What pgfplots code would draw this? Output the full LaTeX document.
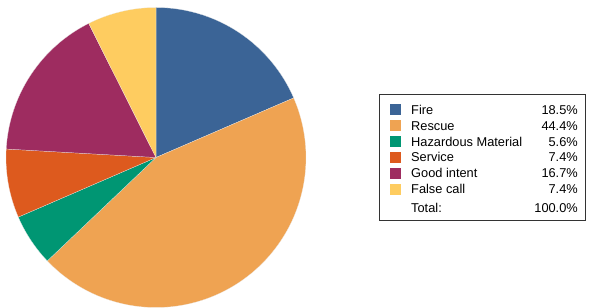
\documentclass[border=0pt]{standalone}
\usepackage{fontspec}
\setmainfont{Liberation Sans}
\usepackage{pgfplots}
\pgfplotsset{compat=1.18}
\definecolor{cFire}{RGB}{59,100,150}
\definecolor{cRescue}{RGB}{239,163,82}
\definecolor{cHaz}{RGB}{0,150,115}
\definecolor{cServ}{RGB}{221,90,30}
\definecolor{cGood}{RGB}{158,44,96}
\definecolor{cFalse}{RGB}{254,204,96}
% data (percent)
\def\vFire{18.5}
\def\vRescue{44.4}
\def\vHaz{5.6}
\def\vServ{7.4}
\def\vGood{16.7}
\def\vFalse{7.4}
\begin{document}
\begin{tikzpicture}[x=1pt,y=1pt]
\fontsize{12.8}{15}\selectfont
\path (0,0) rectangle (589,306);
% cumulative angles, clockwise from 90 deg
\pgfmathsetmacro\aA{90}
\pgfmathsetmacro\aB{\aA-3.6*\vFire}
\pgfmathsetmacro\aC{\aB-3.6*\vRescue}
\pgfmathsetmacro\aD{\aC-3.6*\vHaz}
\pgfmathsetmacro\aE{\aD-3.6*\vServ}
\pgfmathsetmacro\aF{\aE-3.6*\vGood}
\pgfmathsetmacro\aG{\aF-3.6*\vFalse}
\begin{axis}[
  at={(4,-1)}, anchor=south west,
  scale only axis, width=300pt, height=300pt,
  xmin=-1, xmax=1, ymin=-1, ymax=1,
  hide axis, clip=false,
]
\addplot[fill=cFire, draw=white!85!gray, line width=0.2pt, domain=\aB:\aA, samples=80, variable=\t] ({cos(\t)},{sin(\t)}) -- (axis cs:0,0) -- cycle;
\addplot[fill=cRescue, draw=white!85!gray, line width=0.2pt, domain=\aC:\aB, samples=150, variable=\t] ({cos(\t)},{sin(\t)}) -- (axis cs:0,0) -- cycle;
\addplot[fill=cHaz, draw=white!85!gray, line width=0.2pt, domain=\aD:\aC, samples=40, variable=\t] ({cos(\t)},{sin(\t)}) -- (axis cs:0,0) -- cycle;
\addplot[fill=cServ, draw=white!85!gray, line width=0.2pt, domain=\aE:\aD, samples=40, variable=\t] ({cos(\t)},{sin(\t)}) -- (axis cs:0,0) -- cycle;
\addplot[fill=cGood, draw=white!85!gray, line width=0.2pt, domain=\aF:\aE, samples=80, variable=\t] ({cos(\t)},{sin(\t)}) -- (axis cs:0,0) -- cycle;
\addplot[fill=cFalse, draw=white!85!gray, line width=0.2pt, domain=\aG:\aF, samples=40, variable=\t] ({cos(\t)},{sin(\t)}) -- (axis cs:0,0) -- cycle;
\end{axis}
% legend
\draw[line width=0.8pt, black!80] (379,212) rectangle (585,86);
\def\legrow#1#2#3#4{%
  \fill[#2] (390,{306-#1-5.5}) rectangle (401,{306-#1+5.5});
  \node[anchor=base west, inner sep=0] at (411,{306-#1-4.6}) {#3};
  \node[anchor=base east, inner sep=0] at (578,{306-#1-4.6}) {#4};
}
\legrow{109.7}{cFire}{Fire}{18.5\%}
\legrow{125.6}{cRescue}{Rescue}{44.4\%}
\legrow{141.5}{cHaz}{Hazardous Material}{5.6\%}
\legrow{157.4}{cServ}{Service}{7.4\%}
\legrow{173.3}{cGood}{Good intent}{16.7\%}
\legrow{189.3}{cFalse}{False call}{7.4\%}
\node[anchor=base west, inner sep=0] at (411,{306-208.3-4.6}) {Total:};
\node[anchor=base east, inner sep=0] at (578,{306-208.3-4.6}) {100.0\%};
\end{tikzpicture}
\end{document}
